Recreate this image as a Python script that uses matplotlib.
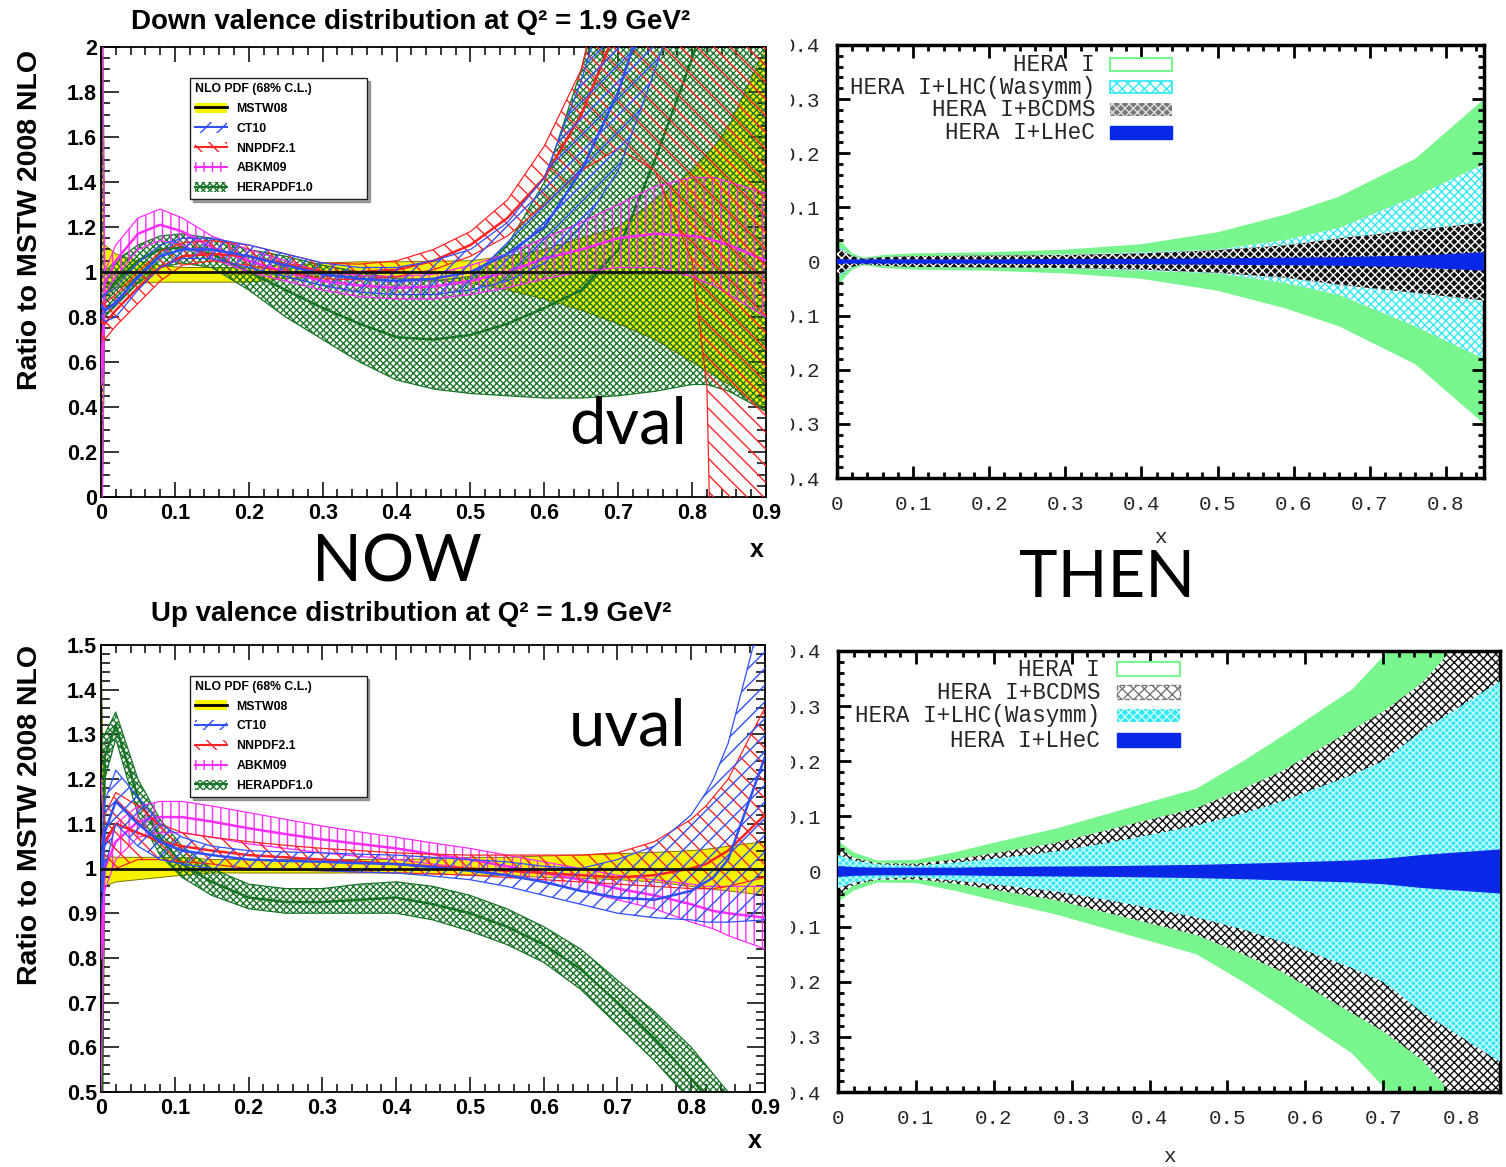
import matplotlib.pyplot as plt
from matplotlib.patches import Patch, Rectangle
from matplotlib.lines import Line2D
from matplotlib.ticker import MultipleLocator, FuncFormatter

plt.rcParams['hatch.linewidth'] = 1.0

# ---------------- NOW: ratio to MSTW 2008 NLO ----------------
x_now = [0.0, 0.005, 0.02, 0.05, 0.08, 0.11, 0.15, 0.2, 0.25, 0.3, 0.35, 0.4, 0.45, 0.5,
         0.55, 0.6, 0.65, 0.7, 0.75, 0.8, 0.82, 0.83, 0.85, 0.9]

# down valence
dv_mstw_lo = [-0.5, 0.88, 0.93, 0.95, 0.955, 0.955, 0.955, 0.955, 0.97, 0.98, 0.98, 0.975, 0.965, 0.95,
              0.92, 0.88, 0.83, 0.77, 0.7, 0.6, 0.56, 0.54, 0.5, 0.38]
dv_mstw_c = [1.0] * 24
dv_mstw_hi = [3.0, 1.12, 1.08, 1.05, 1.03, 1.02, 1.02, 1.02, 1.03, 1.04, 1.045, 1.045, 1.048, 1.05,
              1.07, 1.1, 1.15, 1.2, 1.32, 1.45, 1.52, 1.56, 1.65, 2.0]

dv_ct10_lo = [0.8, 0.78, 0.8, 0.92, 1.02, 1.06, 1.06, 1.02, 0.98, 0.94, 0.91, 0.9, 0.9, 0.92,
              0.96, 1.04, 1.2, 1.45, 1.9, 2.4, 2.6, 2.7, 2.9, 3.4]
dv_ct10_c = [0.85, 0.83, 0.86, 0.98, 1.07, 1.1, 1.1, 1.07, 1.03, 0.99, 0.97, 0.96, 0.97, 1.0,
             1.08, 1.2, 1.45, 1.8, 2.3, 3.0, 3.2, 3.3, 3.5, 4.0]
dv_ct10_hi = [0.9, 0.9, 0.93, 1.04, 1.12, 1.15, 1.15, 1.12, 1.08, 1.04, 1.02, 1.02, 1.05, 1.1,
              1.22, 1.42, 1.85, 2.4, 3.0, 3.8, 4.1, 4.3, 4.6, 5.2]

dv_nnpdf_lo = [0.7, 0.7, 0.76, 0.86, 0.96, 1.03, 1.05, 1.03, 1.0, 0.97, 0.965, 0.98, 1.01, 1.07,
               1.16, 1.3, 1.45, 1.55, 1.45, 1.05, 0.49, -1.0, -1.0, -1.0]
dv_nnpdf_c = [0.78, 0.77, 0.83, 0.93, 1.02, 1.07, 1.08, 1.07, 1.035, 1.0, 1.0, 1.01, 1.05, 1.12,
              1.24, 1.42, 1.7, 2.1, 2.6, 3.0, 3.2, 3.3, 3.5, 4.0]
dv_nnpdf_hi = [0.86, 0.86, 0.9, 1.0, 1.09, 1.13, 1.14, 1.12, 1.08, 1.04, 1.035, 1.05, 1.1, 1.18,
               1.32, 1.56, 1.9, 2.6, 3.4, 4.0, 4.3, 4.5, 5.0, 6.0]

dv_abkm_lo = [-0.5, 0.9, 0.98, 1.1, 1.14, 1.12, 1.06, 1.0, 0.96, 0.92, 0.89, 0.88, 0.88, 0.9,
              0.93, 0.97, 1.0, 1.02, 1.02, 0.98, 0.95, 0.94, 0.9, 0.8]
dv_abkm_c = [0.5, 0.95, 1.05, 1.17, 1.21, 1.18, 1.11, 1.05, 1.0, 0.96, 0.94, 0.93, 0.935, 0.96,
             1.0, 1.06, 1.1, 1.15, 1.17, 1.16, 1.15, 1.14, 1.12, 1.05]
dv_abkm_hi = [3.0, 1.0, 1.12, 1.24, 1.28, 1.24, 1.16, 1.1, 1.05, 1.0, 0.985, 0.98, 0.99, 1.03,
              1.08, 1.15, 1.22, 1.3, 1.38, 1.42, 1.42, 1.42, 1.4, 1.35]

dv_hera_lo = [-0.5, 0.8, 0.85, 0.95, 1.02, 1.04, 1.02, 0.92, 0.8, 0.7, 0.6, 0.52, 0.48, 0.46,
              0.45, 0.44, 0.44, 0.45, 0.47, 0.5, 0.5, 0.49, 0.47, 0.38]
dv_hera_c = [0.5, 0.9, 0.96, 1.05, 1.1, 1.11, 1.08, 1.0, 0.92, 0.84, 0.77, 0.71, 0.7, 0.72,
             0.77, 0.84, 0.92, 1.1, 1.5, 1.95, 2.15, 2.25, 2.5, 3.2]
dv_hera_hi = [2.2, 1.0, 1.05, 1.12, 1.16, 1.17, 1.15, 1.1, 1.07, 1.03, 1.0, 0.97, 0.96, 0.98,
              1.12, 1.4, 1.9, 2.5, 3.0, 3.5, 3.7, 3.8, 4.0, 4.5]

# up valence
uv_mstw_lo = [0.0, 0.96, 0.97, 0.975, 0.98, 0.985, 0.99, 0.99, 0.99, 0.99, 0.99, 0.99, 0.988, 0.985,
              0.985, 0.98, 0.978, 0.975, 0.97, 0.96, 0.955, 0.953, 0.95, 0.94]
uv_mstw_c = [1.0] * 24
uv_mstw_hi = [1.5, 1.03, 1.025, 1.025, 1.025, 1.025, 1.02, 1.02, 1.02, 1.02, 1.02, 1.02, 1.022, 1.025,
              1.025, 1.028, 1.03, 1.033, 1.036, 1.04, 1.043, 1.045, 1.05, 1.06]

uv_ct10_lo = [0.9, 1.0, 1.1, 1.05, 1.02, 1.01, 1.0, 1.0, 0.997, 0.995, 0.992, 0.99, 0.983, 0.975,
              0.96, 0.94, 0.92, 0.9, 0.89, 0.885, 0.88, 0.88, 0.88, 0.885]
uv_ct10_c = [0.95, 1.08, 1.15, 1.1, 1.06, 1.04, 1.03, 1.02, 1.017, 1.015, 1.012, 1.01, 1.003, 0.995,
             0.985, 0.97, 0.95, 0.935, 0.93, 0.95, 0.97, 0.98, 1.02, 1.25]
uv_ct10_hi = [1.0, 1.15, 1.22, 1.16, 1.1, 1.07, 1.05, 1.04, 1.037, 1.035, 1.032, 1.03, 1.025, 1.02,
              1.015, 1.005, 1.0, 1.02, 1.05, 1.12, 1.17, 1.2, 1.28, 1.6]

uv_nnpdf_lo = [0.95, 1.0, 1.0, 1.02, 1.02, 1.015, 1.01, 1.0, 0.997, 0.995, 0.992, 0.99, 0.988, 0.985,
               0.98, 0.975, 0.97, 0.965, 0.96, 0.955, 0.955, 0.955, 0.96, 0.98]
uv_nnpdf_c = [1.0, 1.06, 1.1, 1.08, 1.06, 1.05, 1.04, 1.03, 1.025, 1.02, 1.015, 1.01, 1.005, 1.0,
              0.995, 0.99, 0.985, 0.98, 0.985, 1.0, 1.01, 1.02, 1.04, 1.12]
uv_nnpdf_hi = [1.05, 1.12, 1.17, 1.14, 1.1, 1.08, 1.07, 1.06, 1.052, 1.045, 1.04, 1.035, 1.032, 1.03,
               1.03, 1.03, 1.03, 1.035, 1.06, 1.11, 1.14, 1.16, 1.2, 1.36]

uv_abkm_lo = [0.5, 0.95, 1.02, 1.07, 1.08, 1.08, 1.07, 1.055, 1.045, 1.035, 1.027, 1.02, 1.01, 1.0,
              0.985, 0.97, 0.95, 0.93, 0.91, 0.88, 0.87, 0.865, 0.85, 0.82]
uv_abkm_c = [0.8, 1.0, 1.06, 1.105, 1.115, 1.115, 1.105, 1.09, 1.077, 1.065, 1.055, 1.045, 1.032, 1.02,
             1.005, 0.99, 0.975, 0.955, 0.94, 0.92, 0.91, 0.905, 0.9, 0.89]
uv_abkm_hi = [1.2, 1.05, 1.1, 1.14, 1.15, 1.15, 1.14, 1.125, 1.11, 1.095, 1.082, 1.07, 1.057, 1.045,
              1.03, 1.015, 1.0, 0.985, 0.975, 0.965, 0.96, 0.96, 0.96, 0.96]

uv_hera_lo = [0.0, 1.2, 1.29, 1.12, 1.03, 0.98, 0.94, 0.91, 0.9, 0.9, 0.9, 0.9, 0.885, 0.86,
              0.83, 0.79, 0.73, 0.65, 0.57, 0.48, 0.44, 0.42, 0.38, 0.28]
uv_hera_c = [0.3, 1.25, 1.32, 1.16, 1.07, 1.01, 0.97, 0.935, 0.925, 0.925, 0.93, 0.935, 0.92, 0.9,
             0.87, 0.83, 0.775, 0.7, 0.62, 0.53, 0.49, 0.47, 0.43, 0.33]
uv_hera_hi = [1.3, 1.3, 1.35, 1.2, 1.11, 1.05, 1.0, 0.965, 0.955, 0.955, 0.965, 0.97, 0.96, 0.94,
              0.91, 0.87, 0.82, 0.75, 0.68, 0.6, 0.56, 0.54, 0.5, 0.4]

# ---------------- THEN: relative uncertainty (half widths) ----------------
x_then_d = [0.0, 0.01, 0.02, 0.035, 0.06, 0.1, 0.2, 0.3, 0.4, 0.5, 0.59, 0.66, 0.76, 0.85]
d_hera1 = [0.05, 0.03, 0.015, 0.007, 0.012, 0.015, 0.017, 0.022, 0.032, 0.054, 0.087, 0.12, 0.19, 0.3]
d_lhc = [0.03, 0.02, 0.01, 0.005, 0.008, 0.01, 0.011, 0.013, 0.017, 0.022, 0.04, 0.062, 0.12, 0.18]
d_bcdms = [0.025, 0.018, 0.01, 0.005, 0.008, 0.01, 0.011, 0.012, 0.015, 0.021, 0.03, 0.043, 0.058, 0.072]
d_lhec = [0.005, 0.004, 0.004, 0.004, 0.004, 0.004, 0.004, 0.005, 0.005, 0.006, 0.007, 0.008, 0.011, 0.017]

x_then_u = [0.0, 0.02, 0.05, 0.1, 0.15, 0.2, 0.28, 0.36, 0.46, 0.52, 0.57, 0.66, 0.7, 0.75, 0.85]
u_hera1 = [0.055, 0.035, 0.02, 0.021, 0.035, 0.052, 0.078, 0.11, 0.15, 0.2, 0.245, 0.33, 0.39, 0.46, 0.6]
u_bcdms = [0.045, 0.025, 0.015, 0.014, 0.022, 0.033, 0.052, 0.08, 0.115, 0.15, 0.182, 0.257, 0.29, 0.342, 0.5]
u_lhc = [0.03, 0.02, 0.013, 0.01, 0.016, 0.023, 0.036, 0.055, 0.083, 0.105, 0.127, 0.175, 0.2, 0.255, 0.345]
u_lhec = [0.01, 0.008, 0.007, 0.007, 0.007, 0.008, 0.009, 0.01, 0.012, 0.014, 0.016, 0.02, 0.023, 0.03, 0.04]

W, H = 1506, 1167
SANS = 'Liberation Sans'
MONO = 'Liberation Mono'
fig = plt.figure(figsize=(W / 100, H / 100), dpi=100)


def box(l, t, r, b):
    return [l / W, 1 - b / H, (r - l) / W, (b - t) / H]


colors = {'MSTW08': '#f7f200', 'CT10': '#2f4fff', 'NNPDF2.1': '#ff2424',
          'ABKM09': '#ff2cff', 'HERAPDF1.0': '#1b7529'}
hatches = {'CT10': '//', 'NNPDF2.1': '\\\\', 'ABKM09': '||', 'HERAPDF1.0': 'xxxxx'}
zord = {'HERAPDF1.0': 2, 'ABKM09': 3, 'NNPDF2.1': 4, 'CT10': 5}


def now_panel(ax, bands, ylim, ymaj, ymin):
    for name, lo, c, hi in bands:
        col = colors[name]
        if name == 'MSTW08':
            ax.fill_between(x_now, lo, hi, facecolor=col, edgecolor='none', lw=0, zorder=1)
            ax.plot(x_now, lo, color='#7a7400', lw=0.7, zorder=1.2)
            ax.plot(x_now, hi, color='#7a7400', lw=0.7, zorder=1.2)
            ax.plot(x_now, c, color='#111111', lw=2.0, zorder=7)
        else:
            z = zord[name]
            ax.fill_between(x_now, lo, hi, facecolor='none', edgecolor=col,
                            hatch=hatches[name], lw=0, zorder=z)
            ax.plot(x_now, lo, color=col, lw=0.9, zorder=z + 0.1)
            ax.plot(x_now, hi, color=col, lw=0.9, zorder=z + 0.1)
            ax.plot(x_now, c, color=col, lw=1.8, zorder=z + 0.2)
    ax.set_xlim(0, 0.9)
    ax.set_ylim(*ylim)
    ax.xaxis.set_major_locator(MultipleLocator(0.1))
    ax.xaxis.set_minor_locator(MultipleLocator(0.02))
    ax.yaxis.set_major_locator(MultipleLocator(ymaj))
    ax.yaxis.set_minor_locator(MultipleLocator(ymin))
    ax.xaxis.set_major_formatter(FuncFormatter(lambda v, p: f'{v:g}'))
    ax.yaxis.set_major_formatter(FuncFormatter(lambda v, p: f'{v:g}'))
    ax.tick_params(which='both', direction='in', top=True, right=True, width=1.1)
    ax.tick_params(axis='x', which='major', length=11, pad=4)
    ax.tick_params(axis='x', which='minor', length=5.5)
    ax.tick_params(axis='y', which='major', length=13, pad=3)
    ax.tick_params(axis='y', which='minor', length=6.5)
    for lab in ax.get_xticklabels() + ax.get_yticklabels():
        lab.set_fontfamily(SANS)
        lab.set_fontweight('bold')
        lab.set_fontsize(15.5)
    for s in ax.spines.values():
        s.set_linewidth(1.3)
    handles = []
    for name in ['MSTW08', 'CT10', 'NNPDF2.1', 'ABKM09', 'HERAPDF1.0']:
        col = colors[name]
        if name == 'MSTW08':
            handles.append((Patch(facecolor=col, edgecolor='none', lw=0),
                            Line2D([], [], color='k', lw=2)))
        else:
            handles.append((Patch(facecolor='none', edgecolor=col, hatch=hatches[name], lw=0),
                            Line2D([], [], color=col, lw=1.5)))
    leg = ax.legend(handles, ['MSTW08', 'CT10', 'NNPDF2.1', 'ABKM09', 'HERAPDF1.0'],
                    loc='upper left', bbox_to_anchor=(0.134, 0.931, 0.266, 0.0),
                    mode='expand', title='NLO PDF (68% C.L.)', alignment='left',
                    prop={'family': SANS, 'weight': 'bold', 'size': 8.8},
                    title_fontproperties={'family': SANS, 'weight': 'bold', 'size': 8.8},
                    handlelength=2.6, handleheight=0.9, labelspacing=0.62,
                    borderaxespad=0, borderpad=0.4, fancybox=False, shadow=True,
                    framealpha=1, edgecolor='#222222')
    leg.get_frame().set_linewidth(1.0)
    leg.set_zorder(20)


ax_d = fig.add_axes(box(101, 47, 766, 497))
now_panel(ax_d, [('MSTW08', dv_mstw_lo, dv_mstw_c, dv_mstw_hi),
                 ('HERAPDF1.0', dv_hera_lo, dv_hera_c, dv_hera_hi),
                 ('ABKM09', dv_abkm_lo, dv_abkm_c, dv_abkm_hi),
                 ('NNPDF2.1', dv_nnpdf_lo, dv_nnpdf_c, dv_nnpdf_hi),
                 ('CT10', dv_ct10_lo, dv_ct10_c, dv_ct10_hi)],
          (0, 2), 0.2, 0.05)

ax_u = fig.add_axes(box(101, 645, 765, 1092))
now_panel(ax_u, [('MSTW08', uv_mstw_lo, uv_mstw_c, uv_mstw_hi),
                 ('HERAPDF1.0', uv_hera_lo, uv_hera_c, uv_hera_hi),
                 ('ABKM09', uv_abkm_lo, uv_abkm_c, uv_abkm_hi),
                 ('NNPDF2.1', uv_nnpdf_lo, uv_nnpdf_c, uv_nnpdf_hi),
                 ('CT10', uv_ct10_lo, uv_ct10_c, uv_ct10_hi)],
          (0.5, 1.5), 0.1, 0.02)

title_kw = dict(family=SANS, weight='bold', fontsize=20, ha='center', va='center')
fig.text(411 / W, 1 - 22 / H, 'Down valence distribution at Q² = 1.9 GeV²', **title_kw)
fig.text(411 / W, 1 - 614 / H, 'Up valence distribution at Q² = 1.9 GeV²', **title_kw)
ylab_kw = dict(family=SANS, weight='bold', fontsize=20.5, rotation=90, ha='center', va='center')
fig.text(30 / W, 1 - 220 / H, 'Ratio to MSTW 2008 NLO', **ylab_kw)
fig.text(30 / W, 1 - 815 / H, 'Ratio to MSTW 2008 NLO', **ylab_kw)
fig.text(757 / W, 1 - 550 / H, 'x', family=SANS, weight='bold', fontsize=18, ha='center', va='center')
fig.text(755 / W, 1 - 1141 / H, 'x', family=SANS, weight='bold', fontsize=18, ha='center', va='center')

big_kw = dict(family='Lato', fontsize=47, ha='center', va='center')
fig.text(397 / W, 1 - 563 / H, 'NOW', **big_kw)
fig.text(1107 / W, 1 - 578 / H, 'THEN', **big_kw)
fig.text(628 / W, 1 - 425 / H, 'dval', **big_kw)
fig.text(628 / W, 1 - 727 / H, 'uval', **big_kw)

# ---------------- THEN panels ----------------
GREEN = '#78f58c'
CYAN = '#30e8f4'
BLUE = '#0828e8'


def then_panel(ax, x, bands, legend, xlab_y):
    for w, kw in bands:
        lo = [-v for v in w]
        ax.fill_between(x, lo, w, **kw)
    ax.set_xlim(0, 0.85)
    ax.set_ylim(-0.4, 0.4)
    ax.xaxis.set_major_locator(MultipleLocator(0.1))
    ax.xaxis.set_minor_locator(MultipleLocator(0.02))
    ax.yaxis.set_major_locator(MultipleLocator(0.1))
    ax.yaxis.set_minor_locator(MultipleLocator(0.02))
    ax.xaxis.set_major_formatter(FuncFormatter(lambda v, p: '0' if abs(v) < 1e-9 else f'{v:.1f}'))
    ax.yaxis.set_major_formatter(FuncFormatter(lambda v, p: '0' if abs(v) < 1e-9 else f'{abs(v):.1f}'))
    ax.tick_params(which='both', direction='in', top=True, right=True, width=2,
                   labelsize=15, labelcolor='#262626')
    ax.tick_params(which='major', length=9)
    ax.tick_params(which='minor', length=4.5)
    ax.tick_params(axis='x', pad=12)
    ax.tick_params(axis='y', pad=12)
    for lab in ax.get_xticklabels() + ax.get_yticklabels():
        lab.set_fontfamily(MONO)
    for s in ax.spines.values():
        s.set_linewidth(2.5)
    ax.set_xlabel('x', family=MONO, fontsize=15, color='#262626')
    ax.xaxis.set_label_coords(0.5, xlab_y)
    tx, bx, bw, bh, ys = legend[0]
    for (label, kw), y in zip(legend[1], ys):
        ax.text(tx, y, label, transform=ax.transAxes, ha='right', va='center',
                family=MONO, fontsize=16.3, color='#262626')
        ax.add_patch(Rectangle((bx, y - bh / 2), bw, bh, transform=ax.transAxes, zorder=5, **kw))


ax_td = fig.add_axes(box(837, 45, 1484, 478))
then_panel(ax_td, x_then_d,
           [(d_hera1, dict(facecolor=GREEN, lw=0, zorder=1)),
            (d_lhc, dict(facecolor='white', edgecolor=CYAN, hatch='xxxx', lw=0, zorder=2)),
            (d_bcdms, dict(facecolor='#111111', edgecolor='white', hatch='xxxx', lw=0, zorder=3)),
            (d_lhec, dict(facecolor=BLUE, lw=0, zorder=4))],
           ((0.399, 0.422, 0.096, 0.03, [0.956, 0.903, 0.850, 0.797]),
            [('HERA I', dict(facecolor='white', edgecolor=GREEN, lw=1.5)),
             ('HERA I+LHC(Wasymm)', dict(facecolor='white', edgecolor=CYAN, hatch='xxx', lw=1.2)),
             ('HERA I+BCDMS', dict(facecolor='#777777', edgecolor='#dddddd', hatch='xxxx', lw=0)),
             ('HERA I+LHeC', dict(facecolor=BLUE, edgecolor=BLUE, lw=1))]),
           -0.115)

ax_tu = fig.add_axes(box(838, 651, 1500, 1092))
then_panel(ax_tu, x_then_u,
           [(u_hera1, dict(facecolor=GREEN, lw=0, zorder=1)),
            (u_bcdms, dict(facecolor='white', edgecolor='#111111', hatch='xxxx', lw=0, zorder=2)),
            (u_lhc, dict(facecolor=CYAN, edgecolor='#c8fbff', hatch='xxxxx', lw=0, zorder=3)),
            (u_lhec, dict(facecolor=BLUE, lw=0, zorder=4))],
           ((0.396, 0.421, 0.095, 0.03, [0.959, 0.907, 0.853, 0.798]),
            [('HERA I', dict(facecolor='white', edgecolor=GREEN, lw=1.5)),
             ('HERA I+BCDMS', dict(facecolor='white', edgecolor='#777777', hatch='xxx', lw=1, ls='--')),
             ('HERA I+LHC(Wasymm)', dict(facecolor=CYAN, edgecolor='#c8fbff', hatch='xxxx', lw=0)),
             ('HERA I+LHeC', dict(facecolor=BLUE, edgecolor=BLUE, lw=1))]),
           -0.125)

# the right-hand panels were cropped on their left side in the original collage
for t, b in [(30, 490), (640, 1105)]:
    fig.add_artist(Rectangle((781 / W, 1 - b / H), 10 / W, (b - t) / H,
                             transform=fig.transFigure, facecolor='white',
                             edgecolor='none', zorder=50))

fig.savefig('out.png', dpi=100, facecolor='white')
